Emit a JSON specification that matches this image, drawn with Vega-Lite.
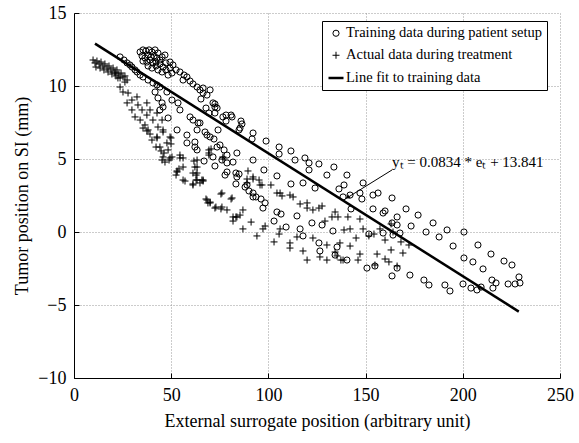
{
"$schema": "https://vega.github.io/schema/vega-lite/v6.json",
"width": 486, "height": 365,
"autosize": "none",
"padding": {"left": 74, "top": 13, "right": 19, "bottom": 65},
"background": "white",
"config": {
 "view": {"stroke": null},
 "font": "Liberation Serif",
 "axis": {"grid": true, "gridDash": [1, 2], "gridColor": "#999", "gridWidth": 1, "domainColor": "#000", "domainWidth": 1, "tickColor": "#000", "tickSize": -5, "labelFont": "Liberation Serif", "labelFontSize": 18, "labelColor": "#000", "labelPadding": 13, "labelFlush": false, "titleFont": "Liberation Serif", "titleFontSize": 18, "titleFontWeight": "normal", "titleColor": "#000"},
 "legend": {"orient": "none", "legendX": 248, "legendY": 8, "labelFont": "Liberation Serif", "labelFontSize": 14.5, "labelColor": "#000", "labelLimit": 400, "labelOffset": 1, "symbolStrokeColor": "#000", "strokeColor": "#000", "fillColor": "#fff", "padding": 5, "rowPadding": 7}
},
"datasets": {
 "pts": [
  {"x":23.7,"y":11.99,"s":"T"},{"x":25.7,"y":11.78,"s":"T"},{"x":27.3,"y":11.58,"s":"T"},{"x":28.8,"y":11.44,"s":"T"},{"x":29.8,"y":11.3,"s":"T"},{"x":31.4,"y":11.1,"s":"T"},{"x":32.4,"y":10.96,"s":"T"},{"x":34.0,"y":10.75,"s":"T"},{"x":35.5,"y":10.62,"s":"T"},{"x":38.1,"y":10.41,"s":"T"},{"x":40.6,"y":10.21,"s":"T"},{"x":42.7,"y":10.07,"s":"T"},{"x":44.2,"y":9.93,"s":"T"},
  {"x":34.0,"y":12.33,"s":"T"},{"x":35.5,"y":12.47,"s":"T"},{"x":37.0,"y":12.4,"s":"T"},{"x":38.6,"y":12.47,"s":"T"},{"x":40.1,"y":12.33,"s":"T"},{"x":41.7,"y":12.47,"s":"T"},{"x":43.2,"y":12.26,"s":"T"},{"x":35.0,"y":12.06,"s":"T"},{"x":36.5,"y":11.92,"s":"T"},{"x":38.1,"y":12.12,"s":"T"},{"x":39.6,"y":11.99,"s":"T"},{"x":41.2,"y":12.06,"s":"T"},{"x":42.7,"y":11.92,"s":"T"},{"x":35.5,"y":11.71,"s":"T"},{"x":37.5,"y":11.64,"s":"T"},{"x":39.1,"y":11.78,"s":"T"},{"x":40.6,"y":11.58,"s":"T"},{"x":42.2,"y":11.64,"s":"T"},{"x":44.2,"y":11.78,"s":"T"},{"x":45.3,"y":11.99,"s":"T"},{"x":46.8,"y":12.12,"s":"T"},{"x":38.1,"y":11.37,"s":"T"},{"x":40.1,"y":11.23,"s":"T"},{"x":42.2,"y":11.37,"s":"T"},{"x":44.2,"y":11.51,"s":"T"},{"x":45.8,"y":11.3,"s":"T"},{"x":47.3,"y":11.58,"s":"T"},{"x":49.4,"y":11.64,"s":"T"},{"x":43.2,"y":11.1,"s":"T"},{"x":45.3,"y":10.96,"s":"T"},{"x":47.3,"y":11.1,"s":"T"},{"x":49.4,"y":11.23,"s":"T"},{"x":50.9,"y":11.44,"s":"T"},{"x":48.4,"y":10.75,"s":"T"},{"x":50.4,"y":10.89,"s":"T"},{"x":52.5,"y":11.1,"s":"T"},{"x":54.5,"y":10.96,"s":"T"},
  {"x":56.6,"y":10.75,"s":"T"},{"x":58.1,"y":10.62,"s":"T"},{"x":59.7,"y":10.34,"s":"T"},{"x":61.2,"y":10.14,"s":"T"},{"x":63.3,"y":9.93,"s":"T"},{"x":64.8,"y":9.73,"s":"T"},{"x":66.4,"y":9.86,"s":"T"},{"x":70.0,"y":9.73,"s":"T"},{"x":56.1,"y":10.41,"s":"T"},{"x":71.5,"y":8.84,"s":"T"},{"x":73.6,"y":8.49,"s":"T"},{"x":76.6,"y":7.88,"s":"T"},{"x":81.3,"y":7.88,"s":"T"},{"x":85.4,"y":7.12,"s":"T"},
  {"x":41.7,"y":9.59,"s":"T"},{"x":43.2,"y":9.18,"s":"T"},{"x":45.8,"y":8.56,"s":"T"},{"x":48.4,"y":7.81,"s":"T"},{"x":53.0,"y":6.99,"s":"T"},{"x":58.1,"y":6.1,"s":"T"},{"x":63.3,"y":5.62,"s":"T"},{"x":54.5,"y":8.36,"s":"T"},{"x":59.7,"y":7.88,"s":"T"},{"x":63.8,"y":7.47,"s":"T"},{"x":47.8,"y":9.59,"s":"T"},{"x":50.4,"y":9.04,"s":"T"},{"x":53.5,"y":8.84,"s":"T"},{"x":61.2,"y":7.67,"s":"T"},{"x":63.3,"y":6.99,"s":"T"},{"x":68.4,"y":6.64,"s":"T"},{"x":62.2,"y":6.16,"s":"T"},{"x":78.7,"y":4.11,"s":"T"},{"x":83.8,"y":3.77,"s":"T"},{"x":88.0,"y":3.08,"s":"T"},{"x":92.1,"y":2.67,"s":"T"},{"x":71.5,"y":5.14,"s":"T"},{"x":62.2,"y":5.82,"s":"T"},{"x":58.1,"y":6.64,"s":"T"},{"x":44.2,"y":8.36,"s":"T"},{"x":45.3,"y":8.84,"s":"T"},
  {"x":66.4,"y":9.52,"s":"T"},{"x":68.4,"y":9.38,"s":"T"},{"x":65.3,"y":9.11,"s":"T"},{"x":72.5,"y":8.77,"s":"T"},{"x":72.5,"y":8.56,"s":"T"},{"x":67.9,"y":8.49,"s":"T"},{"x":69.4,"y":8.15,"s":"T"},{"x":72.5,"y":8.15,"s":"T"},{"x":78.2,"y":8.01,"s":"T"},{"x":80.8,"y":8.01,"s":"T"},{"x":78.2,"y":7.6,"s":"T"},{"x":85.9,"y":7.6,"s":"T"},{"x":86.4,"y":7.4,"s":"T"},{"x":84.9,"y":6.99,"s":"T"},{"x":92.1,"y":6.78,"s":"T"},{"x":91.6,"y":6.37,"s":"T"},{"x":98.8,"y":6.23,"s":"T"},{"x":105.5,"y":5.82,"s":"T"},{"x":105.5,"y":5.34,"s":"T"},{"x":111.6,"y":5.55,"s":"T"},{"x":113.7,"y":4.93,"s":"T"},{"x":118.8,"y":5.07,"s":"T"},{"x":120.9,"y":4.73,"s":"T"},{"x":120.9,"y":4.25,"s":"T"},{"x":126.0,"y":4.66,"s":"T"},{"x":130.1,"y":3.9,"s":"T"},{"x":104.4,"y":3.84,"s":"T"},{"x":64.8,"y":7.47,"s":"T"},{"x":67.4,"y":6.85,"s":"T"},{"x":70.0,"y":6.51,"s":"T"},{"x":72.0,"y":6.37,"s":"T"},{"x":74.1,"y":6.99,"s":"T"},{"x":75.1,"y":5.96,"s":"T"},{"x":77.2,"y":5.62,"s":"T"},{"x":78.7,"y":5.27,"s":"T"},{"x":76.1,"y":4.93,"s":"T"},{"x":66.9,"y":4.86,"s":"T"},{"x":72.5,"y":4.52,"s":"T"},{"x":83.8,"y":5.41,"s":"T"},{"x":81.8,"y":4.79,"s":"T"},{"x":77.7,"y":3.9,"s":"T"},{"x":83.3,"y":4.04,"s":"T"},{"x":84.9,"y":3.97,"s":"T"},{"x":92.1,"y":4.93,"s":"T"},{"x":97.7,"y":4.25,"s":"T"},{"x":78.7,"y":4.73,"s":"T"},{"x":73.6,"y":5.82,"s":"T"},
  {"x":83.3,"y":3.29,"s":"T"},{"x":89.0,"y":3.22,"s":"T"},{"x":90.0,"y":2.81,"s":"T"},{"x":92.1,"y":2.4,"s":"T"},{"x":93.6,"y":2.4,"s":"T"},{"x":96.2,"y":2.26,"s":"T"},{"x":98.3,"y":1.99,"s":"T"},{"x":97.2,"y":1.64,"s":"T"},{"x":104.4,"y":1.37,"s":"T"},{"x":106.5,"y":1.23,"s":"T"},{"x":102.9,"y":0.75,"s":"T"},{"x":114.7,"y":1.1,"s":"T"},{"x":109.1,"y":0.34,"s":"T"},{"x":116.3,"y":0.21,"s":"T"},{"x":117.8,"y":-0.27,"s":"T"},{"x":111.6,"y":3.29,"s":"T"},{"x":117.8,"y":3.36,"s":"T"},{"x":124.0,"y":3.01,"s":"T"},{"x":122.4,"y":0.62,"s":"T"},{"x":127.6,"y":0.48,"s":"T"},{"x":126.0,"y":-0.75,"s":"T"},{"x":126.5,"y":-1.3,"s":"T"},
  {"x":133.7,"y":4.45,"s":"T"},{"x":140.4,"y":3.9,"s":"T"},{"x":138.9,"y":3.22,"s":"T"},{"x":136.3,"y":2.95,"s":"T"},{"x":148.7,"y":3.36,"s":"T"},{"x":147.1,"y":2.67,"s":"T"},{"x":148.1,"y":2.26,"s":"T"},{"x":142.0,"y":2.53,"s":"T"},{"x":138.4,"y":2.4,"s":"T"},{"x":153.8,"y":2.53,"s":"T"},{"x":156.4,"y":2.67,"s":"T"},{"x":163.6,"y":2.33,"s":"T"},{"x":142.5,"y":1.58,"s":"T"},{"x":153.8,"y":1.58,"s":"T"},{"x":159.0,"y":1.3,"s":"T"},{"x":160.0,"y":1.44,"s":"T"},{"x":170.8,"y":1.58,"s":"T"},{"x":166.2,"y":1.03,"s":"T"},{"x":177.0,"y":1.16,"s":"T"},{"x":184.7,"y":0.62,"s":"T"},{"x":173.4,"y":0.41,"s":"T"},{"x":163.6,"y":0.62,"s":"T"},{"x":166.2,"y":0.48,"s":"T"},{"x":133.2,"y":0.07,"s":"T"},{"x":151.7,"y":-0.14,"s":"T"},{"x":159.0,"y":-0.07,"s":"T"},{"x":167.7,"y":-0.07,"s":"T"},{"x":164.1,"y":-0.21,"s":"T"},{"x":181.1,"y":0.0,"s":"T"},{"x":191.9,"y":0.14,"s":"T"},{"x":200.6,"y":0.0,"s":"T"},{"x":187.8,"y":-0.34,"s":"T"},{"x":195.0,"y":-0.96,"s":"T"},{"x":207.8,"y":-0.89,"s":"T"},{"x":135.3,"y":-1.03,"s":"T"},{"x":134.3,"y":-1.58,"s":"T"},{"x":140.4,"y":-1.92,"s":"T"},{"x":150.7,"y":-2.47,"s":"T"},{"x":154.8,"y":-2.33,"s":"T"},{"x":166.2,"y":-2.47,"s":"T"},{"x":163.6,"y":-3.01,"s":"T"},{"x":172.8,"y":-2.95,"s":"T"},{"x":200.6,"y":-1.78,"s":"T"},{"x":205.2,"y":-2.05,"s":"T"},{"x":214.5,"y":-1.51,"s":"T"},{"x":221.2,"y":-1.99,"s":"T"},{"x":225.3,"y":-2.26,"s":"T"},{"x":210.4,"y":-2.53,"s":"T"},{"x":180.0,"y":-3.29,"s":"T"},{"x":182.6,"y":-3.63,"s":"T"},{"x":190.8,"y":-3.63,"s":"T"},{"x":193.4,"y":-4.04,"s":"T"},{"x":200.1,"y":-3.56,"s":"T"},{"x":204.2,"y":-3.84,"s":"T"},{"x":207.3,"y":-3.97,"s":"T"},{"x":209.4,"y":-3.77,"s":"T"},{"x":215.0,"y":-3.29,"s":"T"},{"x":217.1,"y":-3.49,"s":"T"},{"x":215.5,"y":-3.84,"s":"T"},{"x":223.3,"y":-3.56,"s":"T"},{"x":226.9,"y":-3.56,"s":"T"},{"x":228.9,"y":-3.08,"s":"T"},{"x":229.4,"y":-3.49,"s":"T"},
  {"x":9.8,"y":11.78,"s":"A"},{"x":10.8,"y":11.58,"s":"A"},{"x":11.8,"y":11.71,"s":"A"},{"x":12.9,"y":11.51,"s":"A"},{"x":13.9,"y":11.64,"s":"A"},{"x":14.9,"y":11.37,"s":"A"},{"x":15.9,"y":11.51,"s":"A"},{"x":17.0,"y":11.23,"s":"A"},{"x":18.0,"y":11.37,"s":"A"},{"x":19.0,"y":11.1,"s":"A"},{"x":20.1,"y":11.23,"s":"A"},{"x":21.1,"y":10.96,"s":"A"},{"x":22.1,"y":11.1,"s":"A"},{"x":23.1,"y":10.82,"s":"A"},{"x":24.2,"y":10.89,"s":"A"},{"x":25.2,"y":10.62,"s":"A"},{"x":26.2,"y":10.69,"s":"A"},{"x":27.3,"y":10.41,"s":"A"},{"x":11.3,"y":11.3,"s":"A"},{"x":13.4,"y":11.23,"s":"A"},{"x":15.4,"y":11.1,"s":"A"},{"x":17.5,"y":10.96,"s":"A"},{"x":19.5,"y":10.82,"s":"A"},{"x":21.6,"y":10.69,"s":"A"},{"x":23.7,"y":10.55,"s":"A"},
  {"x":21.1,"y":10.89,"s":"A"},{"x":22.6,"y":10.55,"s":"A"},{"x":23.7,"y":9.93,"s":"A"},{"x":26.2,"y":10.27,"s":"A"},{"x":25.2,"y":9.59,"s":"A"},{"x":27.8,"y":9.52,"s":"A"},{"x":29.8,"y":9.04,"s":"A"},{"x":32.4,"y":9.25,"s":"A"},{"x":27.3,"y":8.84,"s":"A"},{"x":29.8,"y":8.36,"s":"A"},{"x":31.4,"y":7.88,"s":"A"},{"x":34.0,"y":7.67,"s":"A"},{"x":37.5,"y":8.84,"s":"A"},{"x":39.1,"y":8.36,"s":"A"},{"x":42.7,"y":8.15,"s":"A"},{"x":36.5,"y":7.33,"s":"A"},{"x":38.1,"y":6.99,"s":"A"},{"x":43.2,"y":7.19,"s":"A"},{"x":45.8,"y":6.85,"s":"A"},{"x":42.7,"y":6.51,"s":"A"},{"x":44.2,"y":5.82,"s":"A"},{"x":47.8,"y":6.1,"s":"A"},{"x":49.4,"y":6.51,"s":"A"},{"x":45.8,"y":5.14,"s":"A"},{"x":50.4,"y":5.14,"s":"A"},{"x":54.5,"y":5.07,"s":"A"},{"x":56.1,"y":4.45,"s":"A"},{"x":53.0,"y":4.11,"s":"A"},{"x":62.2,"y":4.45,"s":"A"},{"x":63.3,"y":4.04,"s":"A"},{"x":63.3,"y":3.56,"s":"A"},{"x":61.2,"y":3.22,"s":"A"},{"x":66.4,"y":3.56,"s":"A"},{"x":63.3,"y":4.93,"s":"A"},{"x":68.4,"y":2.19,"s":"A"},{"x":70.0,"y":2.05,"s":"A"},{"x":72.5,"y":1.64,"s":"A"},{"x":76.1,"y":1.71,"s":"A"},{"x":78.7,"y":1.51,"s":"A"},{"x":76.1,"y":2.67,"s":"A"},{"x":81.8,"y":1.03,"s":"A"},{"x":86.9,"y":1.51,"s":"A"},{"x":89.0,"y":3.36,"s":"A"},{"x":92.1,"y":3.77,"s":"A"},
  {"x":32.9,"y":8.7,"s":"A"},{"x":35.0,"y":8.36,"s":"A"},{"x":37.5,"y":8.01,"s":"A"},{"x":40.6,"y":7.67,"s":"A"},{"x":35.5,"y":7.12,"s":"A"},{"x":45.3,"y":7.67,"s":"A"},{"x":45.8,"y":6.99,"s":"A"},{"x":40.1,"y":6.3,"s":"A"},{"x":48.4,"y":5.62,"s":"A"},{"x":49.4,"y":5.07,"s":"A"},{"x":54.5,"y":5.27,"s":"A"},
  {"x":42.2,"y":5.82,"s":"A"},{"x":44.8,"y":5.55,"s":"A"},{"x":46.3,"y":5.41,"s":"A"},{"x":49.9,"y":6.03,"s":"A"},{"x":49.9,"y":6.44,"s":"A"},{"x":48.9,"y":4.93,"s":"A"},{"x":46.8,"y":4.79,"s":"A"},{"x":45.3,"y":4.93,"s":"A"},{"x":56.1,"y":5.07,"s":"A"},{"x":54.0,"y":4.32,"s":"A"},{"x":53.0,"y":4.18,"s":"A"},{"x":52.5,"y":3.9,"s":"A"},{"x":56.1,"y":3.56,"s":"A"},{"x":57.1,"y":3.49,"s":"A"},{"x":61.7,"y":4.86,"s":"A"},{"x":63.3,"y":4.45,"s":"A"},{"x":61.2,"y":4.04,"s":"A"},{"x":62.8,"y":3.9,"s":"A"},{"x":62.8,"y":3.56,"s":"A"},{"x":61.2,"y":3.29,"s":"A"},{"x":64.8,"y":3.36,"s":"A"},{"x":66.4,"y":3.49,"s":"A"},{"x":69.4,"y":5.41,"s":"A"},{"x":70.5,"y":5.69,"s":"A"},{"x":75.6,"y":2.6,"s":"A"},{"x":80.8,"y":2.26,"s":"A"},{"x":67.9,"y":2.26,"s":"A"},{"x":70.0,"y":1.99,"s":"A"},{"x":73.0,"y":1.71,"s":"A"},{"x":75.6,"y":1.58,"s":"A"},{"x":83.8,"y":1.03,"s":"A"},{"x":81.8,"y":0.75,"s":"A"},{"x":76.6,"y":5.14,"s":"A"},{"x":39.1,"y":6.71,"s":"A"},{"x":37.5,"y":6.92,"s":"A"},{"x":42.7,"y":6.44,"s":"A"},
  {"x":69.4,"y":5.62,"s":"A"},{"x":69.4,"y":5.27,"s":"A"},{"x":76.6,"y":5.0,"s":"A"},{"x":89.5,"y":4.18,"s":"A"},{"x":89.0,"y":3.63,"s":"A"},{"x":92.1,"y":3.63,"s":"A"},{"x":95.2,"y":3.56,"s":"A"},{"x":96.7,"y":3.22,"s":"A"},{"x":101.3,"y":3.22,"s":"A"},{"x":106.0,"y":2.67,"s":"A"},{"x":111.1,"y":2.53,"s":"A"},{"x":65.8,"y":3.56,"s":"A"},
  {"x":81.3,"y":2.33,"s":"A"},{"x":68.9,"y":1.99,"s":"A"},{"x":85.4,"y":1.16,"s":"A"},{"x":83.3,"y":1.03,"s":"A"},{"x":91.1,"y":0.68,"s":"A"},{"x":86.9,"y":0.21,"s":"A"},{"x":94.1,"y":-0.27,"s":"A"},{"x":97.2,"y":0.21,"s":"A"},{"x":98.3,"y":0.41,"s":"A"},{"x":106.0,"y":0.21,"s":"A"},{"x":105.5,"y":-0.14,"s":"A"},{"x":102.9,"y":-0.68,"s":"A"},{"x":95.7,"y":3.22,"s":"A"},{"x":104.4,"y":2.67,"s":"A"},{"x":107.0,"y":2.47,"s":"A"},{"x":112.7,"y":2.4,"s":"A"},{"x":116.3,"y":1.92,"s":"A"},{"x":119.9,"y":1.99,"s":"A"},{"x":119.9,"y":1.64,"s":"A"},{"x":122.9,"y":1.51,"s":"A"},{"x":126.0,"y":1.64,"s":"A"},{"x":127.6,"y":1.78,"s":"A"},{"x":134.3,"y":1.37,"s":"A"},{"x":132.7,"y":1.03,"s":"A"},{"x":135.8,"y":1.03,"s":"A"},{"x":129.1,"y":0.75,"s":"A"},{"x":114.7,"y":-0.34,"s":"A"},{"x":111.1,"y":-0.75,"s":"A"},{"x":111.1,"y":-1.1,"s":"A"},{"x":117.8,"y":-1.3,"s":"A"},{"x":119.9,"y":-1.92,"s":"A"},{"x":122.9,"y":-0.41,"s":"A"},{"x":130.1,"y":-0.89,"s":"A"},{"x":126.5,"y":-1.71,"s":"A"},{"x":130.1,"y":-1.92,"s":"A"},{"x":136.8,"y":-0.75,"s":"A"},{"x":134.3,"y":-1.37,"s":"A"},{"x":135.3,"y":-1.64,"s":"A"},{"x":137.3,"y":-1.92,"s":"A"},{"x":138.9,"y":0.14,"s":"A"},
  {"x":140.9,"y":1.03,"s":"A"},{"x":147.1,"y":0.89,"s":"A"},{"x":142.0,"y":0.21,"s":"A"},{"x":145.1,"y":-0.41,"s":"A"},{"x":148.7,"y":0.21,"s":"A"},{"x":151.7,"y":-0.27,"s":"A"},{"x":154.3,"y":-0.14,"s":"A"},{"x":157.4,"y":0.21,"s":"A"},{"x":160.0,"y":-0.55,"s":"A"},{"x":163.1,"y":0.55,"s":"A"},{"x":164.1,"y":0.0,"s":"A"},{"x":142.0,"y":-0.96,"s":"A"},{"x":147.1,"y":-1.51,"s":"A"},{"x":146.1,"y":-1.92,"s":"A"},{"x":138.4,"y":-1.92,"s":"A"},{"x":155.9,"y":-1.51,"s":"A"},{"x":154.8,"y":-2.26,"s":"A"},{"x":160.0,"y":-1.85,"s":"A"},{"x":162.0,"y":-2.05,"s":"A"},{"x":163.1,"y":-1.23,"s":"A"},{"x":169.2,"y":-1.44,"s":"A"},{"x":172.3,"y":-0.89,"s":"A"},{"x":168.2,"y":-0.68,"s":"A"},{"x":166.2,"y":-2.33,"s":"A"}
 ],
 "fit": [{"x":10.8,"y":12.9},{"x":228.8,"y":-5.45}],
 "arrow": [{"x":163.6,"y":4.25},{"x":140.0,"y":2.3}],
 "head": [{"x":140.7,"y":2.37}],
 "note": [{"x":163.6,"y":4.8,"t":"yₜ = 0.0834 * eₜ + 13.841"}]
},
"encoding": {
 "x": {"field":"x","type":"quantitative","scale":{"domain":[0,250],"nice":false,"zero":false},
  "axis":{"values":[0,50,100,150,200,250],"title":"External surrogate position (arbitrary unit)","titleX":243,"titleY":48,"titleBaseline":"alphabetic","titleAlign":"center"}},
 "y": {"field":"y","type":"quantitative","scale":{"domain":[-10,15],"nice":false,"zero":false},
  "axis":{"values":[-10,-5,0,5,10,15],"title":"Tumor position on SI (mm)","titleX":-47,"titleY":182.5,"titleAngle":-90,"titleBaseline":"alphabetic","titleAlign":"center"}}
},
"layer": [
 {"data":{"name":"pts"},
  "mark":{"type":"point","filled":false,"color":"black","opacity":1},
  "encoding":{
   "shape":{"field":"s","type":"nominal",
    "scale":{"domain":["T","A","L"],"range":["circle","M-1,0L1,0M0,-1L0,1","stroke"]},
    "legend":{"title":null,"labelExpr":"datum.value == 'T' ? 'Training data during patient setup' : datum.value == 'A' ? 'Actual data during treatment' : 'Line fit to training data'"}},
   "size":{"field":"s","type":"nominal","scale":{"type":"ordinal","domain":["T","A","L"],"range":[38,49,225]},
    "legend":{"title":null,"labelExpr":"datum.value == 'T' ? 'Training data during patient setup' : datum.value == 'A' ? 'Actual data during treatment' : 'Line fit to training data'"}},
   "strokeWidth":{"field":"s","type":"nominal","scale":{"type":"ordinal","domain":["T","A","L"],"range":[1,1,2.5]},
    "legend":{"title":null,"labelExpr":"datum.value == 'T' ? 'Training data during patient setup' : datum.value == 'A' ? 'Actual data during treatment' : 'Line fit to training data'"}}
  }},
 {"data":{"name":"fit"},"mark":{"type":"line","color":"black","strokeWidth":2.5},"encoding":{}},
 {"data":{"name":"arrow"},"mark":{"type":"line","color":"black","strokeWidth":1},"encoding":{}},
 {"data":{"name":"head"},"mark":{"type":"point","shape":"triangle-up","filled":true,"color":"black","size":22,"angle":237,"opacity":1},"encoding":{}},
 {"data":{"name":"note"},"mark":{"type":"text","align":"left","baseline":"middle","font":"Liberation Serif","fontSize":15,"color":"black"},"encoding":{"text":{"field":"t"}}}
]
}
